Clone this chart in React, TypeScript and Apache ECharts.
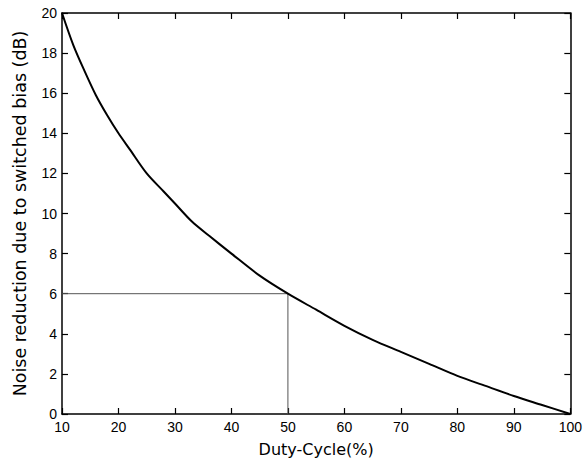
import React, { useEffect, useRef } from "react";
import * as echarts from "echarts";

const dutyCycle = [10, 12, 14, 16, 18, 20, 22, 25, 28, 30, 33, 36, 40, 45, 50, 55, 60, 65, 70, 75, 80, 85, 90, 95, 100];
const noiseReduction = [20, 18.4, 17.1, 15.9, 14.9, 14.0, 13.2, 12.0, 11.1, 10.5, 9.6, 8.9, 8.0, 6.9, 6.0, 5.2, 4.4, 3.7, 3.1, 2.5, 1.9, 1.4, 0.9, 0.45, 0];
const guideX = [10, 50, 50];
const guideY = [6, 6, 0];

export default function App() {
  const ref = useRef<HTMLDivElement>(null);
  useEffect(() => {
    const chart = echarts.init(ref.current!, null, { renderer: "svg" });
    const tickFont = () => ({ fontFamily: "Liberation Sans", fontSize: 14, color: "#000" });
    const tick = () => ({ show: true, inside: true, length: 6, lineStyle: { color: "#000", width: 1.2 } });
    const line = () => ({ show: true, onZero: false, lineStyle: { color: "#000", width: 1.5 } });
    chart.setOption({
      animation: false,
      backgroundColor: "#fff",
      grid: { left: 62, right: 13, top: 13, bottom: 47, containLabel: false },
      xAxis: [
        {
          type: "value", min: 10, max: 100, interval: 10, position: "bottom",
          axisLine: line(), axisTick: tick(), splitLine: { show: false },
          axisLabel: { ...tickFont(), margin: 6 },
          name: "Duty-Cycle(%)", nameLocation: "middle", nameGap: 27,
          nameTextStyle: { fontFamily: "DejaVu Sans", fontSize: 16, color: "#000" },
        },
        {
          type: "value", min: 10, max: 100, interval: 10, position: "top",
          axisLine: line(), axisTick: tick(), axisLabel: { show: false }, splitLine: { show: false },
        },
      ],
      yAxis: [
        {
          type: "value", min: 0, max: 20, interval: 2, position: "left",
          axisLine: line(), axisTick: tick(), splitLine: { show: false },
          axisLabel: { ...tickFont(), margin: 5 },
          name: "Noise reduction due to switched bias (dB)", nameLocation: "middle", nameGap: 33,
          nameTextStyle: { fontFamily: "DejaVu Sans", fontSize: 17.5, color: "#000" },
        },
        {
          type: "value", min: 0, max: 20, interval: 2, position: "right",
          axisLine: line(), axisTick: tick(), axisLabel: { show: false }, splitLine: { show: false },
        },
      ],
      series: [
        {
          type: "line",
          data: guideX.map((x, i) => [x, guideY[i]]),
          showSymbol: false, symbol: "none",
          lineStyle: { color: "#555", width: 1 },
          z: 1,
        },
        {
          type: "line",
          data: dutyCycle.map((x, i) => [x, noiseReduction[i]]),
          showSymbol: false, symbol: "none", smooth: 0.3,
          lineStyle: { color: "#000", width: 2 },
          z: 2,
        },
      ],
    });
    return () => chart.dispose();
  }, []);
  return <div ref={ref} style={{ width: 585, height: 462, position: "absolute", left: 0, top: 0 }} />;
}
